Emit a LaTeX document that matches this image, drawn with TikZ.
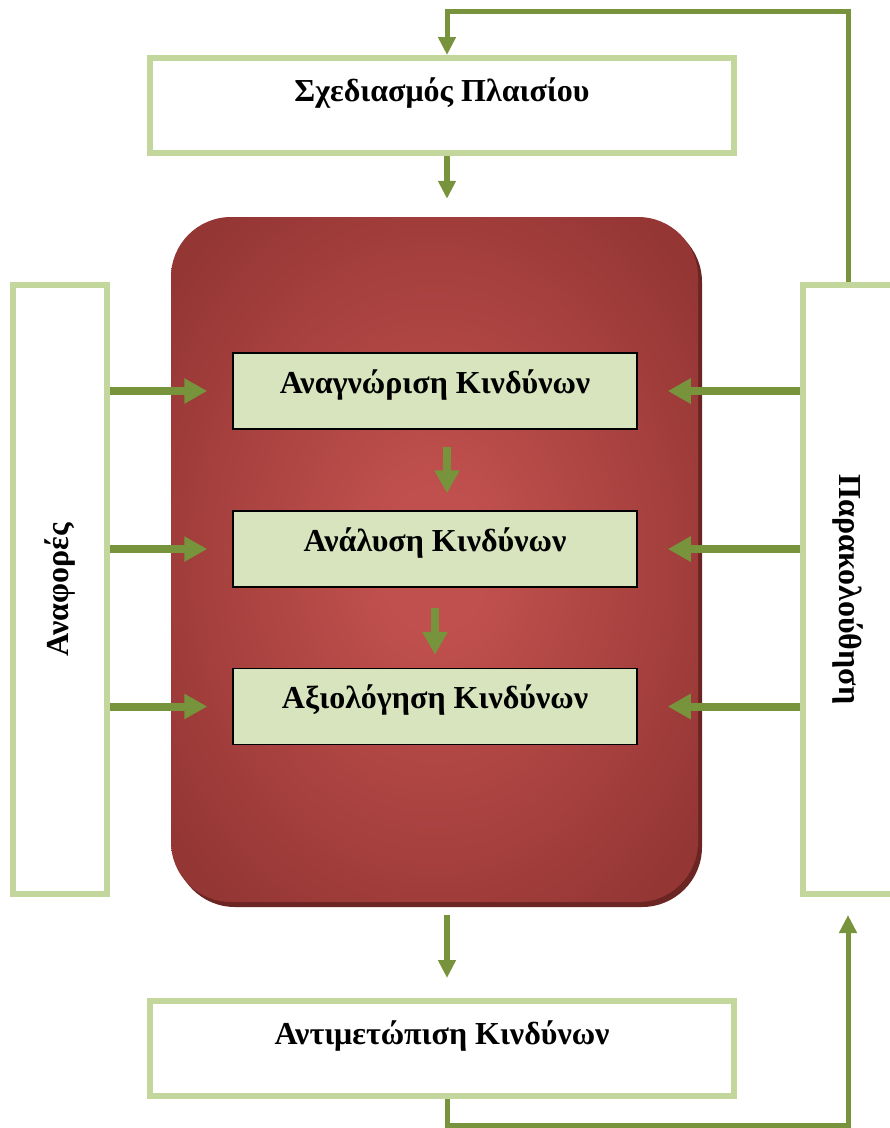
\documentclass[tikz,border=0pt]{standalone}
\usepackage{fontspec}
\setmainfont{Liberation Serif}
\usepackage{graphicx}
\usepackage{tikz}
\usetikzlibrary{arrows.meta, positioning, shadows}

\definecolor{arrowgreen}{HTML}{77933C}
\definecolor{boxgreen}{HTML}{C3D69B}
\definecolor{innergreen}{HTML}{D7E4BD}
\definecolor{reddark}{HTML}{943634}
\definecolor{redlight}{HTML}{C0504D}
\definecolor{redshadow}{HTML}{6B2523}

\pgfdeclareradialshading{coreglow}{\pgfpointorigin}{color(0bp)=(redlight); color(5bp)=(redlight); color(32bp)=(reddark); color(50bp)=(reddark)}

\newcommand{\boxfont}{\fontsize{32}{38}\selectfont\bfseries}

\begin{document}
\begin{tikzpicture}[x=1pt, y=-1pt, on grid,
    outerbox/.style={draw=boxgreen, line width=6pt, fill=white, minimum width=584pt, minimum height=95pt, font=\boxfont, text height=22pt, text depth=30pt},
    sidebox/.style={draw=boxgreen, line width=6pt, fill=white, minimum width=94pt, minimum height=609pt, font=\boxfont},
    riskbox/.style={draw=black, line width=1.5pt, fill=innergreen, minimum width=404pt, minimum height=76pt, font=\boxfont, text height=22pt, text depth=18pt},
    core/.style={rounded corners=60pt, minimum width=527pt, minimum height=685pt, shade, shading=coreglow, drop shadow={shadow xshift=4pt, shadow yshift=-5pt, fill=redshadow, opacity=1}},
    loopline/.style={draw=arrowgreen, line width=5pt, -{Triangle[length=18pt, width=17pt]}},
    feed/.style={draw=arrowgreen, line width=6pt, -{Triangle[length=18pt, width=17pt]}},
    bigarrow/.style={draw=arrowgreen, line width=8pt, -{Triangle[length=23pt, width=24pt]}}]
\useasboundingbox (0,0) rectangle (890,1128);

% red panel with the three steps
\node[core] (core) at (434.5,559.5) {};
\node[riskbox] (ident) at (435,391) {Αναγνώριση Κινδύνων};
\node[riskbox] (anal) [below=158pt of ident] {Ανάλυση Κινδύνων};
\node[riskbox] (eval) [below=157.5pt of anal] {Αξιολόγηση Κινδύνων};

% outer boxes
\node[outerbox] (plan) at (442,105.5) {Σχεδιασμός Πλαισίου};
\node[outerbox] (treat) at (442,1048.5) {Αντιμετώπιση Κινδύνων};
\node[sidebox] (rep) at (60,589.5) {\rotatebox{90}{Αναφορές}};
\node[sidebox, minimum width=90pt] (mon) at (848,589.5) {\rotatebox{-90}{Παρακολούθηση}};

\coordinate (spine) at (447,0);
\coordinate (loopT) at (447,11);
\coordinate (loopB) at (848,1125);

% flow
\draw[feed, shorten >=18pt] (spine |- plan.south) -- (spine |- core.north);
\draw[bigarrow, shorten <=17pt, shorten >=17pt] (spine |- ident.south) -- (spine |- anal.north);
\draw[bigarrow, shorten <=20pt, shorten >=13pt] (anal.south) -- (eval.north);
\draw[feed, shorten <=13pt, shorten >=20pt] (spine |- core.south) -- (spine |- treat.north);
\foreach \b in {ident,anal,eval} {
  \draw[bigarrow, shorten >=25pt] (rep.east |- \b) -- (\b.west);
  \draw[bigarrow, shorten >=30pt] (mon.west |- \b) -- (\b.east);
}

% feedback loops
\draw[loopline] (mon.north) |- (loopT) -- (loopT |- plan.north);
\draw[loopline, shorten >=18pt] (spine |- treat.south) |- (loopB) -- (mon.south);
\end{tikzpicture}
\end{document}
